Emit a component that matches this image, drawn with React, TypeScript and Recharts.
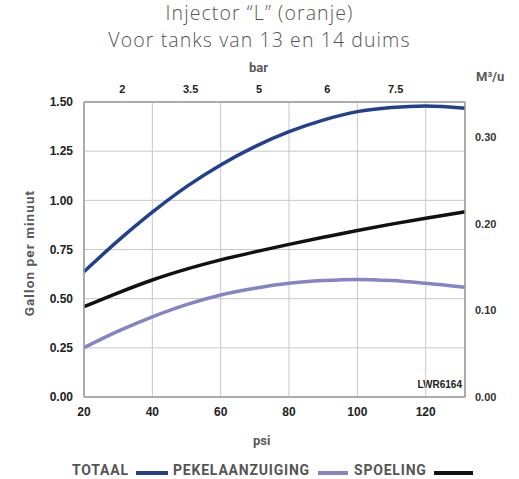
import React from 'react';
import { LineChart, Line, XAxis, YAxis, CartesianGrid } from 'recharts';

const psi = [20, 30, 40, 50, 60, 70, 80, 90, 100, 110, 120, 131.5];
const totaal = [0.637, 0.795, 0.94, 1.07, 1.18, 1.273, 1.349, 1.408, 1.451, 1.472, 1.48, 1.468];
const pekelaanzuiging = [0.251, 0.335, 0.408, 0.47, 0.519, 0.553, 0.578, 0.592, 0.598, 0.592, 0.578, 0.558];
const spoeling = [0.459, 0.53, 0.595, 0.65, 0.697, 0.738, 0.776, 0.812, 0.847, 0.879, 0.909, 0.942];

const psiTicks = [20, 40, 60, 80, 100, 120];
const gpmTicks = [0, 0.25, 0.5, 0.75, 1, 1.25, 1.5];
const m3Ticks = [0, 0.1, 0.2, 0.3];
const barTicks = [31.2, 51.2, 71.2, 91.2, 111.2];
const barLabels = ['2', '3.5', '5', '6', '7.5'];

const data = psi.map((p, i) => ({
  psi: p,
  totaal: totaal[i],
  pekel: pekelaanzuiging[i],
  spoeling: spoeling[i],
}));

const BLUE = '#23408f';
const LAVENDER = '#8784c6';
const BLACK = '#111111';
const AXIS = '#9a9a9a';
const GRID = '#c8c8c8';

const tickFont = { fill: '#222', fontSize: 12, fontWeight: 700, fontFamily: 'Liberation Sans, Arial, sans-serif' };
const labelFont: React.CSSProperties = {
  position: 'absolute',
  color: '#5a5a5a',
  fontFamily: 'Roboto, sans-serif',
  fontWeight: 700,
  fontSize: 13,
  whiteSpace: 'nowrap',
  lineHeight: 1,
};
const legendFont: React.CSSProperties = {
  ...labelFont,
  color: '#555',
  fontSize: 14,
  letterSpacing: 0.8,
  top: 463,
};
const titleFont: React.CSSProperties = {
  position: 'absolute',
  left: 0,
  width: 519,
  textAlign: 'center',
  color: '#555',
  fontFamily: 'Open Sans, sans-serif',
  fontWeight: 300,
  fontSize: 19.5,
  letterSpacing: 1.1,
  lineHeight: 1,
  whiteSpace: 'nowrap',
};

export default function App() {
  return (
    <div style={{ position: 'absolute', left: 0, top: 0, width: 519, height: 479, background: '#fff' }}>
      <div style={{ ...titleFont, top: 3 }}>Injector “L” (oranje)</div>
      <div style={{ ...titleFont, top: 30 }}>Voor tanks van 13 en 14 duims</div>
      <div style={{ ...labelFont, left: 249, top: 61 }}>bar</div>
      <div style={{ ...labelFont, left: 476, top: 70 }}>M³/u</div>
      <div style={{ ...labelFont, left: 253, top: 434 }}>psi</div>
      <div style={{ ...labelFont, left: 30, top: 253, transform: 'translate(-50%, -50%) rotate(-90deg)', fontSize: 13.5, letterSpacing: 1.1 }}>Gallon per minuut</div>
      <div style={{ position: 'absolute', left: 410, top: 380, fontSize: 10, color: '#222', fontFamily: 'Liberation Sans, Arial, sans-serif', fontWeight: 700, textAlign: 'right', width: 52, lineHeight: 1 }}>LWR6164</div>

      <LineChart width={519} height={479} data={data} margin={{ top: 82, right: 14, bottom: 62, left: 34 }}>
        <CartesianGrid xAxisId="bottom" yAxisId="left" stroke={GRID} strokeWidth={1} />
        <XAxis
          xAxisId="bottom"
          dataKey="psi"
          type="number"
          domain={[20, 131.5]}
          ticks={psiTicks}
          height={20}
          tickSize={0}
          tickMargin={10}
          tickLine={false}
          axisLine={{ stroke: AXIS, strokeWidth: 1.5 }}
          tick={tickFont}
        />
        <XAxis
          xAxisId="top"
          orientation="top"
          dataKey="psi"
          type="number"
          domain={[20, 131.5]}
          ticks={barTicks}
          tickFormatter={(v: number) => barLabels[barTicks.indexOf(v)] ?? ''}
          height={20}
          tickSize={0}
          tickMargin={9}
          tickLine={false}
          axisLine={{ stroke: AXIS, strokeWidth: 1.5 }}
          tick={{ ...tickFont, fontSize: 11 }}
        />
        <YAxis
          yAxisId="left"
          domain={[0, 1.5]}
          ticks={gpmTicks}
          tickFormatter={(v: number) => v.toFixed(2)}
          width={50}
          tickSize={0}
          tickMargin={11}
          tickLine={false}
          axisLine={{ stroke: AXIS, strokeWidth: 1.5 }}
          tick={tickFont}
        />
        <YAxis
          yAxisId="right"
          orientation="right"
          type="number"
          domain={[0, 0.3407]}
          allowDataOverflow
          ticks={m3Ticks}
          tickFormatter={(v: number) => v.toFixed(2)}
          width={40}
          tickSize={0}
          tickMargin={10}
          tickLine={false}
          axisLine={{ stroke: AXIS, strokeWidth: 1.5 }}
          tick={{ ...tickFont, fontSize: 11, fill: '#333' }}
        />
        <Line xAxisId="bottom" yAxisId="left" type="monotone" dataKey="totaal" stroke={BLUE} strokeWidth={3.5} dot={false} isAnimationActive={false} />
        <Line xAxisId="bottom" yAxisId="left" type="monotone" dataKey="spoeling" stroke={BLACK} strokeWidth={3.5} dot={false} isAnimationActive={false} />
        <Line xAxisId="bottom" yAxisId="left" type="monotone" dataKey="pekel" stroke={LAVENDER} strokeWidth={3.5} dot={false} isAnimationActive={false} />
      </LineChart>

      <div style={{ ...legendFont, left: 72 }}>TOTAAL</div>
      <div style={{ position: 'absolute', left: 136, top: 471, width: 32, height: 4, background: BLUE }} />
      <div style={{ ...legendFont, left: 173 }}>PEKELAANZUIGING</div>
      <div style={{ position: 'absolute', left: 318, top: 471, width: 30, height: 4, background: LAVENDER }} />
      <div style={{ ...legendFont, left: 354 }}>SPOELING</div>
      <div style={{ position: 'absolute', left: 434, top: 471, width: 39, height: 4, background: BLACK }} />
    </div>
  );
}
